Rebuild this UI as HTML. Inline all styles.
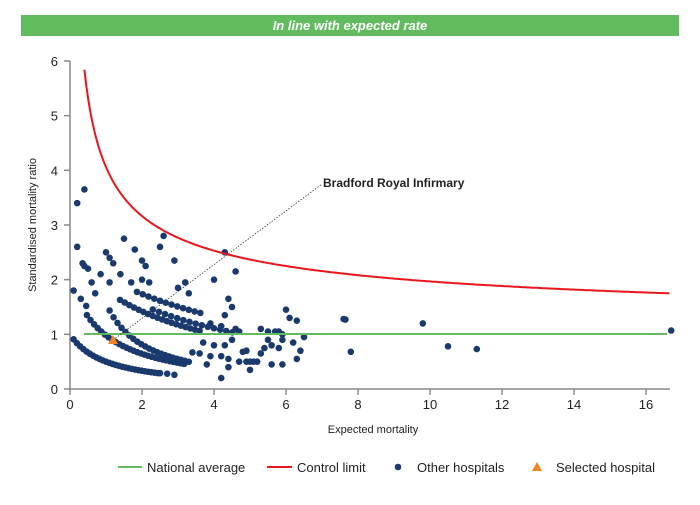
<!DOCTYPE html>
<html><head><style>
body{margin:0;background:#fff;font-family:"Liberation Sans",sans-serif;}
</style></head><body>
<svg id="s" width="700" height="500" xmlns="http://www.w3.org/2000/svg" font-family="Liberation Sans, sans-serif">
<rect x="21" y="15" width="658" height="21" fill="#62bb5f"/>
<text x="350" y="30" text-anchor="middle" fill="#fff" font-size="13" font-weight="bold" font-style="italic">In line with expected rate</text>
<g stroke="#888" stroke-width="1.5" fill="none">
<line x1="70" y1="61" x2="70" y2="389"/>
<line x1="70" y1="389" x2="670" y2="389"/>
</g>
<g id="ticks" stroke="#888" stroke-width="1.5"></g>
<g id="lbl" font-size="13" fill="#222"></g>
<text x="36" y="225" font-size="11" fill="#222" text-anchor="middle" transform="rotate(-90 36 225)">Standardised mortality ratio</text>
<text x="373" y="433" font-size="11" fill="#222" text-anchor="middle">Expected mortality</text>
<g id="dots" fill="#1a3a6e"></g>
<line x1="84" y1="334" x2="667" y2="334" stroke="#62bb5f" stroke-width="2"/>
<path id="cl" fill="none" stroke="#e8161c" stroke-width="2"/>
<line x1="113" y1="340" x2="322" y2="184" stroke="#333" stroke-width="0.8" stroke-dasharray="1.5,1.5"/>
<polygon points="113,335 108,344 118,344" fill="#f08521"/>
<text x="323" y="187" font-size="12" font-weight="bold" fill="#222">Bradford Royal Infirmary</text>
<line x1="118" y1="467" x2="142" y2="467" stroke="#62bb5f" stroke-width="2"/>
<text x="147" y="472" font-size="13" fill="#222">National average</text>
<line x1="267" y1="467" x2="292" y2="467" stroke="#e8161c" stroke-width="2"/>
<text x="297" y="472" font-size="13" fill="#222">Control limit</text>
<circle cx="398" cy="467" r="3.3" fill="#1a3a6e"/>
<text x="417" y="472" font-size="13" fill="#222">Other hospitals</text>
<polygon points="537,462 532,471 542,471" fill="#f08521"/>
<text x="556" y="472" font-size="13" fill="#222">Selected hospital</text>
</svg>
<script>
var X=function(e){return 70+36*e},Y=function(v){return 389-54.67*v};
var ns="http://www.w3.org/2000/svg";
function el(p,t,a,txt){var e=document.createElementNS(ns,t);for(var k in a)e.setAttribute(k,a[k]);if(txt!==undefined)e.textContent=txt;document.getElementById(p).appendChild(e);}
for(var i=0;i<=6;i++){el("ticks","line",{x1:64,x2:70,y1:Y(i),y2:Y(i)});el("lbl","text",{x:58,y:Y(i)+5,"text-anchor":"end"},i);}
for(var i=0;i<=16;i+=2){el("ticks","line",{x1:X(i),x2:X(i),y1:389,y2:395});el("lbl","text",{x:X(i),y:409,"text-anchor":"middle"},i);}
var d="";for(var e=0.4;e<=16.7;e+=0.05){d+=(d?"L":"M")+X(e).toFixed(1)+","+Y(1+3.06/Math.sqrt(e)).toFixed(1);}
document.getElementById("cl").setAttribute("d",d);
var bands=[[1,1,0.1,2.5,0.09],[1.88,0.92,0.47,3.25,0.1],[1.68,0.07,1.1,3.3,0.11],[6.75,2.75,1.39,3.6,0.13],[11.3,4.5,1.86,3.7,0.16],[8,3.2,2.3,4.6,0.17]];
bands.forEach(function(b){for(var e=b[2];e<=b[3];e+=b[4]){el("dots","circle",{cx:X(e),cy:Y(b[0]/(e+b[1])),r:3.3});}});
var pts=[[2.5,0.29],[2.7,0.28],[2.9,0.26],[0.2,3.4],[0.4,3.65],[0.2,2.6],[0.35,2.3],[0.4,2.25],[0.5,2.2],[0.6,1.95],[0.85,2.1],[1.0,2.5],[1.1,2.4],[1.2,2.3],[1.5,2.75],[1.8,2.55],[2.0,2.35],[2.1,2.25],[2.5,2.6],[2.6,2.8],[2.9,2.35],[3.0,1.85],[3.2,1.95],[3.3,1.75],[4.0,2.0],[4.3,2.5],[4.6,2.15],[4.4,1.65],[0.1,1.8],[0.3,1.65],[0.7,1.75],[0.45,1.52],[2.0,2.0],[2.2,1.95],[1.7,1.95],[1.4,2.1],[1.1,1.95],
[5.3,1.1],[5.5,1.05],[5.5,0.9],[5.7,1.05],[5.8,1.05],[5.9,1.0],[6.0,1.45],[6.1,1.3],[6.3,1.25],[6.5,0.95],[6.2,0.85],[5.9,0.9],[5.8,0.75],[5.6,0.8],[5.4,0.75],[5.3,0.65],[5.2,0.5],[5.0,0.5],[4.9,0.5],[5.1,0.5],[4.7,0.5],[4.9,0.7],[5.0,0.35],[5.6,0.45],[5.9,0.45],[6.4,0.7],[6.3,0.55],[4.2,0.2],[4.4,0.4],[3.8,0.45],[3.6,0.65],[3.9,0.6],[4.2,0.6],[4.3,0.8],[4.0,0.8],[4.2,1.15],[4.3,1.35],[4.5,1.5],[4.6,1.1],[4.7,1.05],[4.5,0.9],[4.4,0.55],[3.9,1.2],[3.4,0.67],[3.7,0.85],[4.8,0.68],
[7.6,1.28],[7.65,1.27],[7.8,0.68],[9.8,1.2],[10.5,0.78],[11.3,0.73],[16.7,1.07]];
pts.forEach(function(p){el("dots","circle",{cx:X(p[0]),cy:Y(p[1]),r:3.3});});
</script>
</body></html>
